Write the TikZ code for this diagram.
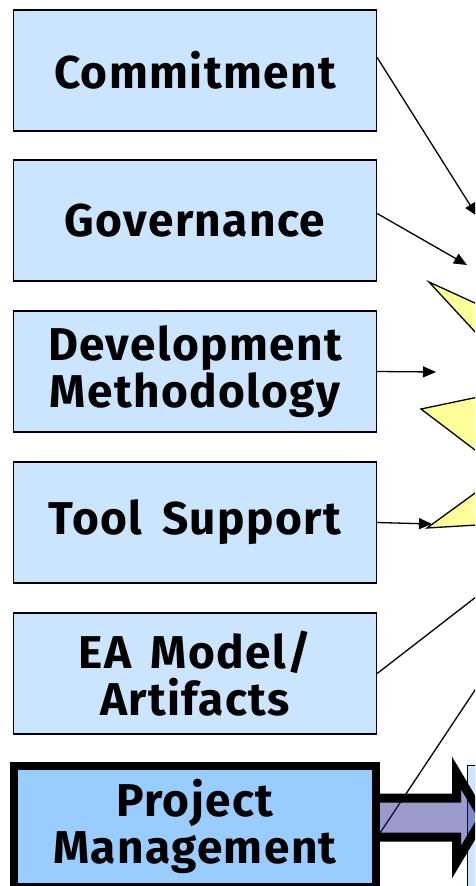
\documentclass[tikz,border=0pt]{standalone}
\usepackage{fontspec}
\setmainfont{Fira Sans}[LetterSpace=3,WordSpace=1.6]
\usepackage{tikz}
\usetikzlibrary{arrows.meta}
\definecolor{facetblue}{RGB}{204,229,255}
\definecolor{pmblue}{RGB}{153,204,255}
\definecolor{staryellow}{RGB}{255,255,153}
\definecolor{bignavy}{RGB}{30,30,140}
\tikzset{%
  facet/.style={draw=black,line width=1.3pt,fill=facetblue,minimum width=363pt,minimum height=121pt,
    inner sep=0pt,align=center,font=\fontsize{46}{47}\selectfont\bfseries},
  pmfacet/.style={facet,fill=pmblue,line width=8pt,minimum width=362pt},
  feed/.style={draw=black,line width=1.3pt,-{Triangle[length=13pt,width=11pt]}},
  loose/.style={draw=black,line width=1.3pt},
  burst/.style={draw=black,line width=1.3pt,fill=staryellow,line join=miter},
  bigarrow/.style={draw=black,line width=9pt,fill=bignavy,fill opacity=0.45,line join=miter}
}

\begin{document}
\begin{tikzpicture}[x=1pt,y=-1pt]
    \useasboundingbox (0,0) rectangle (475,886);
    \clip (0,0) rectangle (475,886);
    \node[facet] (commit) at (195,70.5) {Commitment};
    \node[facet] (gov) at (195,220.5) {Governance};
    \node[facet] (devmeth) at (195,371.5) {Development\\Methodology};
    \node[facet] (tools) at (195,522.5) {Tool Support};
    \node[facet] (eamodel) at (195,673.5) {EA Model/\\Artifacts};
    % star, cut off at the right edge
    \path[burst] (560,342) -- (429,282) -- (526,387) -- (421,409) -- (504,472)
      -- (427,528) -- (560,520) -- cycle;
    \coordinate (tipA) at (477,216);
    \coordinate (tipB) at (467,265);
    \coordinate (tipC) at (436,372);
    \coordinate (tipD) at (432,524);
    \coordinate (offE) at (485,590);
    \coordinate (offF) at (485,675);
    \draw[feed] ([yshift=13pt]commit.east) -- (tipA);
    \draw[feed] ([yshift=7pt]gov.east) -- (tipB);
    \draw[feed] (devmeth.east) -- (tipC);
    \draw[feed] (tools.east) -- (tipD);
    \draw[loose] (eamodel.east) -- (offE);
    % next box, only its edge shows
    \node[draw=black,line width=1.3pt,fill=facetblue,minimum width=60pt,minimum height=140pt,anchor=north west]
      (nextbox) at (467,765) {};
    \coordinate (pmfoot) at (380,833);
    \draw[loose] (pmfoot) -- (offF);
    \path[bigarrow] (372,798) -- (456.5,798) -- (456.5,773) -- (483,817.5) -- (456.5,862)
      -- (456.5,837) -- (372,837) -- cycle;
    \node[pmfacet] (projmgmt) at (195,826.5) {Project\\Management};
  \end{tikzpicture}
\end{document}
